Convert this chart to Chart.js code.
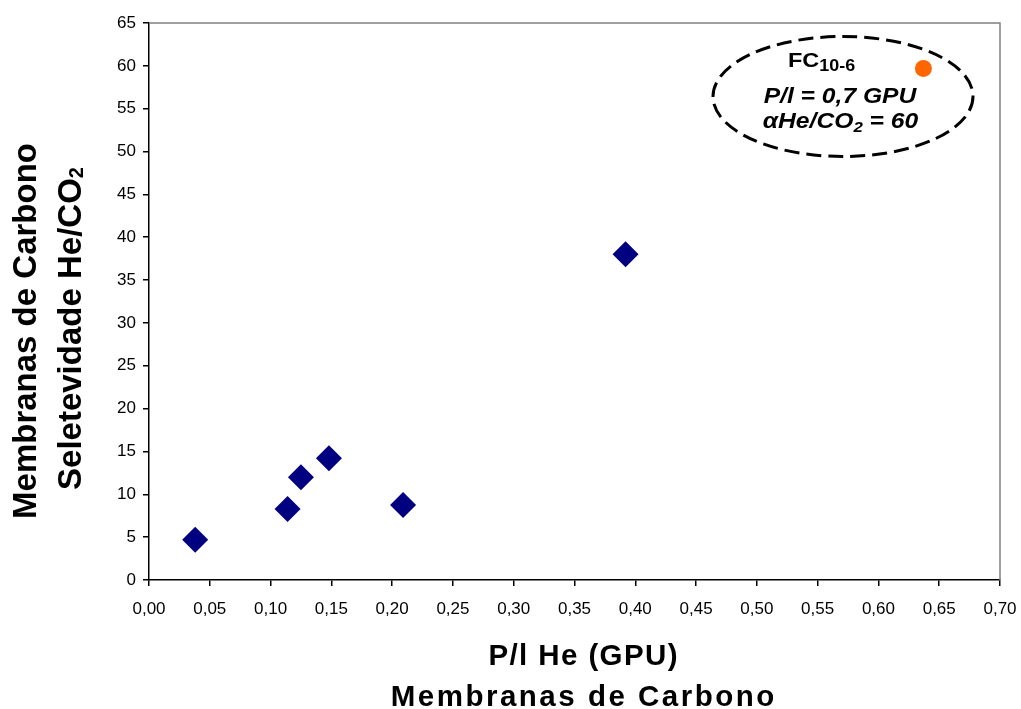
<!DOCTYPE html>
<html>
<head>
<meta charset="utf-8">
<script src="https://cdn.jsdelivr.net/npm/chart.js@4/dist/chart.umd.min.js"></script>
<style>
  html, body { margin: 0; padding: 0; background: #ffffff; }
  canvas { display: block; }
</style>
</head>
<body>
<canvas id="c" width="1021" height="709"></canvas>
<script>
// ---- data ----
const membraneX = [0.038, 0.114, 0.125, 0.148, 0.209, 0.392];
const membraneY = [4.7, 8.3, 12.0, 14.2, 8.75, 38.0];
const highlightX = [0.637];
const highlightY = [59.7];
const xTickValues = [0, 0.05, 0.10, 0.15, 0.20, 0.25, 0.30, 0.35, 0.40, 0.45, 0.50, 0.55, 0.60, 0.65, 0.70];
const xTickLabels = ['0,00','0,05','0,10','0,15','0,20','0,25','0,30','0,35','0,40','0,45','0,50','0,55','0,60','0,65','0,70'];
const yTickValues = [0, 5, 10, 15, 20, 25, 30, 35, 40, 45, 50, 55, 60, 65];
const yTickLabels = ['0','5','10','15','20','25','30','35','40','45','50','55','60','65'];

const FONT = "Arial, 'Liberation Sans', sans-serif";

// draws text parts char by char with optional letter spacing and horizontal scale
function drawRich(ctx, parts, x, y, align, sx, ls) {
  ls = ls || 0;
  let total = 0;
  const glyphs = [];
  parts.forEach(p => {
    ctx.font = p.font;
    for (const ch of p.text) {
      const w = ctx.measureText(ch).width;
      glyphs.push({ch: ch, font: p.font, dy: p.dy || 0, w: w});
      total += w + ls;
    }
  });
  total -= ls;
  ctx.save();
  ctx.translate(x, y);
  ctx.scale(sx, 1);
  let cur = align === 'center' ? -total / 2 : (align === 'right' ? -total : 0);
  ctx.textAlign = 'left';
  ctx.textBaseline = 'alphabetic';
  glyphs.forEach(g => { ctx.font = g.font; ctx.fillText(g.ch, cur, g.dy); cur += g.w + ls; });
  ctx.restore();
}

const decor = {
  id: 'decor',
  afterDraw(chart) {
    const ctx = chart.ctx;
    const a = chart.chartArea;
    ctx.save();
    // grey top and right frame
    ctx.strokeStyle = '#808080';
    ctx.lineWidth = 1.5;
    ctx.beginPath();
    ctx.moveTo(a.left, a.top);
    ctx.lineTo(a.right, a.top);
    ctx.lineTo(a.right, a.bottom);
    ctx.stroke();

    // dashed ellipse annotation
    ctx.strokeStyle = '#000000';
    ctx.lineWidth = 3;
    ctx.setLineDash([15, 7]);
    ctx.beginPath();
    ctx.ellipse(843, 96.5, 130, 60, 0, 0, Math.PI * 2);
    ctx.stroke();
    ctx.setLineDash([]);

    ctx.fillStyle = '#000000';
    const b21 = 'bold 21px ' + FONT;
    const b16 = 'bold 16px ' + FONT;
    const bi22 = 'italic bold 22px ' + FONT;
    const bi15 = 'italic bold 15px ' + FONT;
    drawRich(ctx, [{text: 'FC', font: b21}, {text: '10-6', font: b16, dy: 4}], 788, 66.7, 'left', 1.12);
    drawRich(ctx, [{text: 'P/l = 0,7 GPU', font: bi22}], 840, 102.7, 'center', 1.12);
    drawRich(ctx, [{text: '\u03B1He/CO', font: bi22}, {text: '2', font: bi15, dy: 4}, {text: ' = 60', font: bi22}], 840.5, 128, 'center', 1.12);

    // x axis title
    const b29 = 'bold 29.5px ' + FONT;
    drawRich(ctx, [{text: 'P/l He (GPU)', font: b29}], 583, 664.5, 'center', 1, 1.4);
    drawRich(ctx, [{text: 'Membranas de Carbono', font: b29}], 582.5, 706, 'center', 1, 2.5);

    // y axis title (rotated)
    const b33 = 'bold 33px ' + FONT;
    const b20 = 'bold 20px ' + FONT;
    ctx.save();
    ctx.translate(36, 331);
    ctx.rotate(-Math.PI / 2);
    drawRich(ctx, [{text: 'Membranas de Carbono', font: b33}], 0, 0, 'center', 1);
    ctx.restore();
    ctx.save();
    ctx.translate(81, 328.5);
    ctx.rotate(-Math.PI / 2);
    drawRich(ctx, [{text: 'Seletevidade He/CO', font: b33}, {text: '2', font: b20, dy: 2}], 0, 0, 'center', 1);
    ctx.restore();
    ctx.restore();
  }
};

new Chart(document.getElementById('c'), {
  type: 'scatter',
  data: {
    datasets: [
      {
        data: membraneX.map((x, i) => ({x: x, y: membraneY[i]})),
        pointStyle: 'rectRot',
        pointRadius: 13,
        pointHoverRadius: 13,
        backgroundColor: '#000080',
        borderWidth: 0
      },
      {
        data: highlightX.map((x, i) => ({x: x, y: highlightY[i]})),
        pointStyle: 'circle',
        pointRadius: 8.5,
        pointHoverRadius: 8.5,
        backgroundColor: '#FF6600',
        borderWidth: 0
      }
    ]
  },
  options: {
    responsive: false,
    animation: false,
    devicePixelRatio: 1,
    layout: { padding: { top: 23, right: 21, left: 0, bottom: 0 } },
    plugins: { legend: { display: false }, tooltip: { enabled: false } },
    scales: {
      x: {
        type: 'linear',
        min: 0, max: 0.7,
        afterBuildTicks: s => { s.ticks = xTickValues.map(v => ({value: v})); },
        afterFit: s => { s.height = 129; s.paddingLeft = 0; s.paddingRight = 0; },
        ticks: {
          callback: (v, i) => xTickLabels[i],
          color: '#000000',
          font: { family: FONT, size: 17 },
          padding: 13,
          maxRotation: 0, autoSkip: false
        },
        grid: { display: true, drawOnChartArea: false, drawTicks: true, tickLength: 6, color: '#000000', lineWidth: 1.5 },
        border: { display: true, color: '#000000', width: 1.5 }
      },
      y: {
        type: 'linear',
        min: 0, max: 65,
        afterBuildTicks: s => { s.ticks = yTickValues.map(v => ({value: v})); },
        afterFit: s => { s.width = 149; s.paddingTop = 0; s.paddingBottom = 0; },
        ticks: {
          callback: (v, i) => yTickLabels[i],
          color: '#000000',
          font: { family: FONT, size: 17 },
          padding: 7,
          autoSkip: false
        },
        grid: { display: true, drawOnChartArea: false, drawTicks: true, tickLength: 6, color: '#000000', lineWidth: 1.5 },
        border: { display: true, color: '#000000', width: 1.5 }
      }
    }
  },
  plugins: [decor]
});
</script>
</body>
</html>
